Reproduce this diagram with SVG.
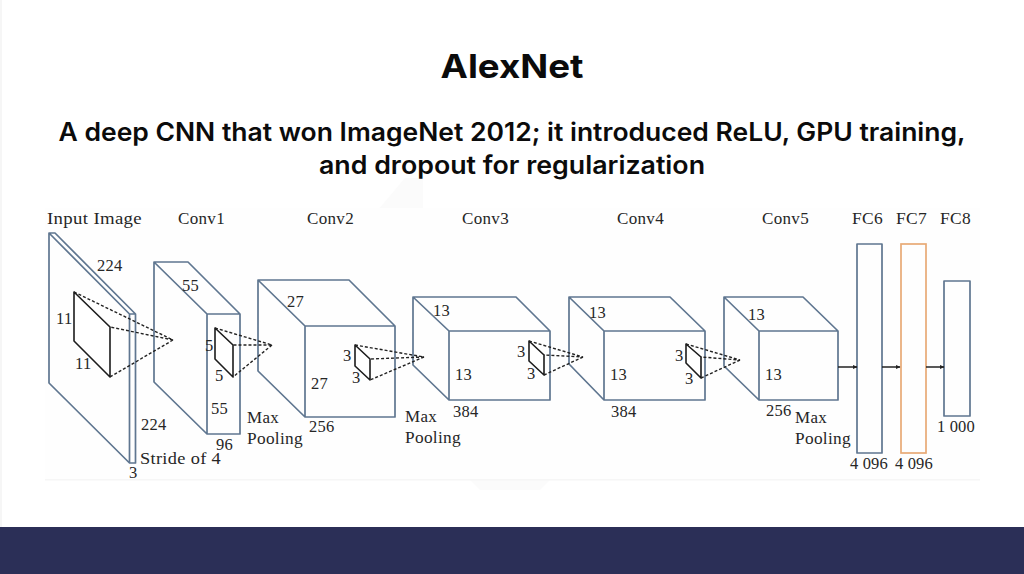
<svg xmlns="http://www.w3.org/2000/svg" width="1024" height="574" viewBox="0 0 1024 574">
<style>
.t{font-family:"Inter","Open Sans","Noto Sans",sans-serif;fill:#0b0b0b;text-anchor:middle}
.l{font-family:"Liberation Serif","DejaVu Serif",serif;font-size:16.5px;fill:#262626;letter-spacing:.3px}
.b{fill:none;stroke:#5f7690;stroke-width:1.7;stroke-linejoin:round}
.o{fill:none;stroke:#e8aa76;stroke-width:1.7}
.f{fill:#fff;stroke:#1c1c1c;stroke-width:1.6;stroke-linejoin:round}
.d{fill:none;stroke:#222;stroke-width:1.4;stroke-dasharray:3 2}
.a{fill:none;stroke:#222;stroke-width:1.5;marker-end:url(#h)}
</style>
<defs><marker id="h" markerWidth="5" markerHeight="5" refX="4" refY="2.5" orient="auto" markerUnits="userSpaceOnUse"><path d="M0 .5L4.500 2.500L0 4.500Z" fill="#222"/></marker></defs>
<rect width="1024" height="574" fill="#fff"/>
<rect x="0" y="0" width="2" height="527" fill="#f6f6f6"/>
<path d="M378 210L405 178H423V210Z" fill="#fbfbfb"/>
<path d="M470 480H550L540 490H480Z" fill="#fbfbfb"/>
<rect x="45" y="208" width="935" height="272" fill="#fefefe"/>
<rect x="45" y="479" width="935" height="1.500" fill="#f6f6f6"/>
<rect x="0" y="527" width="1024" height="47" fill="#2b2f57"/>
<text class="t" x="512" y="78" font-size="33" font-weight="700" textLength="143" lengthAdjust="spacingAndGlyphs">AlexNet</text>
<text class="t" x="512" y="141" font-size="25" font-weight="600" textLength="907" lengthAdjust="spacingAndGlyphs">A deep CNN that won ImageNet 2012; it introduced ReLU, GPU training,</text>
<text class="t" x="512" y="174" font-size="25" font-weight="600" textLength="386" lengthAdjust="spacingAndGlyphs">and dropout for regularization</text>
<g id="input"><path class="b" d="M49 233H55L135.500 314V463H129.500L49 383ZM49 233L129.500 314V463M129.500 314H135.500"/><text class="l" x="47" y="224" textLength="95" lengthAdjust="spacingAndGlyphs">Input Image</text><text class="l" x="97" y="271">224</text><text class="l" x="141" y="430">224</text><text class="l" x="140" y="464" textLength="81" lengthAdjust="spacingAndGlyphs">Stride of 4</text><text class="l" x="129" y="478">3</text>
<path class="f" d="M74 292L110 327V377L74 341Z"/><text class="l" x="56" y="324">11</text><text class="l" x="75" y="369">11</text></g>
<g id="conv1"><path class="b" d="M154 262H188L240 314V434H207L154 382ZM154 262L207 314V434M207 314H240"/><text class="l" x="178" y="224" textLength="47" lengthAdjust="spacingAndGlyphs">Conv1</text><text class="l" x="182" y="291">55</text><text class="l" x="211" y="414">55</text><text class="l" x="216" y="450">96</text>
<path class="f" d="M215 328L233 345V377L215 359Z"/><text class="l" x="205" y="351">5</text><text class="l" x="215" y="381">5</text><text class="l" x="247" y="423" textLength="32" lengthAdjust="spacingAndGlyphs">Max</text><text class="l" x="247" y="444" textLength="56" lengthAdjust="spacingAndGlyphs">Pooling</text></g>
<g id="conv2"><path class="b" d="M258 280H349L395 326V417H305L258 371ZM258 280L305 326V417M305 326H395"/><text class="l" x="307" y="224" textLength="47" lengthAdjust="spacingAndGlyphs">Conv2</text><text class="l" x="287" y="307">27</text><text class="l" x="311" y="389">27</text><text class="l" x="309" y="432">256</text>
<path class="f" d="M355 345L370 359V380L355 366Z"/><text class="l" x="343" y="361">3</text><text class="l" x="352" y="383">3</text><text class="l" x="405" y="422" textLength="32" lengthAdjust="spacingAndGlyphs">Max</text><text class="l" x="405" y="443" textLength="56" lengthAdjust="spacingAndGlyphs">Pooling</text></g>
<g id="conv3"><path class="b" d="M413 297H516L550 331V400H449L413 365ZM413 297L449 331V400M449 331H550"/><text class="l" x="462" y="224" textLength="47" lengthAdjust="spacingAndGlyphs">Conv3</text><text class="l" x="433" y="316">13</text><text class="l" x="455" y="380">13</text><text class="l" x="453" y="417">384</text>
<path class="f" d="M529 341L544 355V375L529 361Z"/><text class="l" x="517" y="357">3</text><text class="l" x="527" y="379">3</text></g>
<g id="conv4"><path class="b" d="M569 297H670L705 331V400H604L569 364ZM569 297L604 331V400M604 331H705"/><text class="l" x="617" y="224" textLength="47" lengthAdjust="spacingAndGlyphs">Conv4</text><text class="l" x="589" y="318">13</text><text class="l" x="610" y="380">13</text><text class="l" x="611" y="417">384</text>
<path class="f" d="M686 344L701 357V378L686 363Z"/><text class="l" x="675" y="361">3</text><text class="l" x="685" y="384">3</text></g>
<g id="conv5"><path class="b" d="M724 297H803L838 331V400H759L724 366ZM724 297L759 331V400M759 331H838"/><text class="l" x="762" y="224" textLength="47" lengthAdjust="spacingAndGlyphs">Conv5</text><text class="l" x="748" y="320">13</text><text class="l" x="765" y="380">13</text><text class="l" x="766" y="416">256</text><text class="l" x="795" y="423" textLength="32" lengthAdjust="spacingAndGlyphs">Max</text><text class="l" x="795" y="444" textLength="56" lengthAdjust="spacingAndGlyphs">Pooling</text></g>
<g id="fc6"><rect class="b" x="857" y="244" width="25" height="209"/><text class="l" x="852" y="224" textLength="31" lengthAdjust="spacingAndGlyphs">FC6</text><text class="l" x="850" y="469" textLength="38">4 096</text></g>
<g id="fc7"><rect class="o" x="901" y="244" width="25" height="209"/><text class="l" x="896" y="224" textLength="31" lengthAdjust="spacingAndGlyphs">FC7</text><text class="l" x="895" y="469" textLength="38">4 096</text></g>
<g id="fc8"><rect class="b" x="944" y="281" width="26" height="135"/><text class="l" x="940" y="224" textLength="31" lengthAdjust="spacingAndGlyphs">FC8</text><text class="l" x="937" y="432" textLength="38">1 000</text></g>
<g id="connectors">
<path class="d" d="M74 292L173 340L110 327M173 340L110 377"/>
<path class="d" d="M215 328L272 345L233 345M272 345L233 377"/>
<path class="d" d="M355 345L424 357L370 359M424 357L370 380"/>
<path class="d" d="M529 341L583 357L544 355M583 357L544 375"/>
<path class="d" d="M686 344L740 360L701 357M740 360L701 378"/>
<path class="a" d="M838 367H857"/><path class="a" d="M882 367H900"/><path class="a" d="M926 367H944"/>
</g>
</svg>
